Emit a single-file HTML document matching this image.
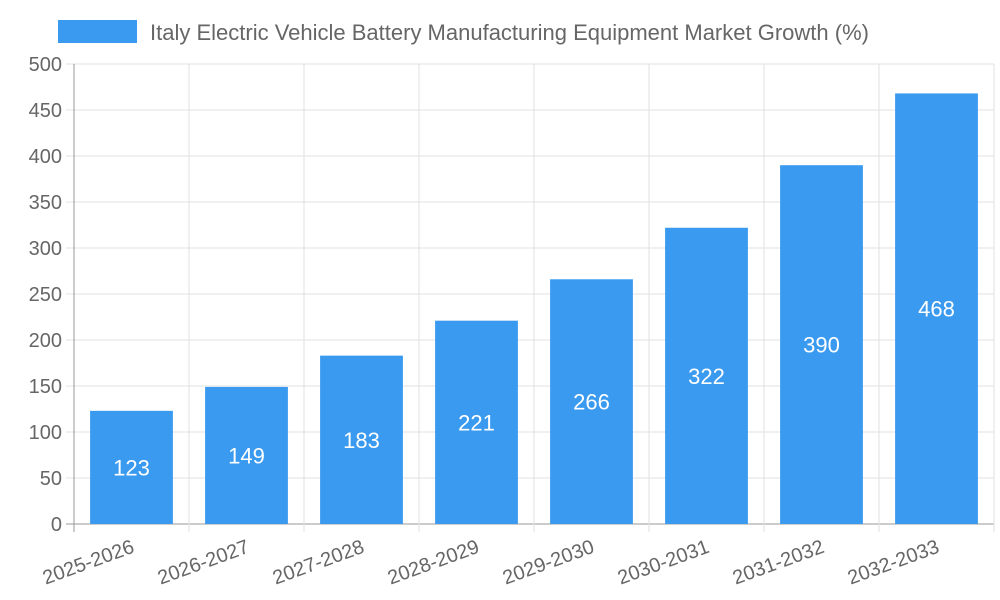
<!DOCTYPE html>
<html><head><meta charset="utf-8"><style>
body{margin:0;background:#fff;}
svg{display:block;font-family:"Liberation Sans",sans-serif;}
</style></head><body>
<svg id="chart" width="1000" height="600">
<rect x="58" y="20" width="79" height="23" fill="#3a9aef"></rect>
<text x="150" y="40" font-size="22" fill="#666">Italy Electric Vehicle Battery Manufacturing Equipment Market Growth (%)</text>
<g id="grid"></g><g id="bars"></g><g id="labels"></g>
</svg>
<script>
const categories=["2025-2026","2026-2027","2027-2028","2028-2029","2029-2030","2030-2031","2031-2032","2032-2033"];
const values=[123,149,183,221,266,322,390,468];
const yTicks=[0,50,100,150,200,250,300,350,400,450,500];
const X0=74,X1=994,Y0=524,Y1=64,YMAX=500;
const bw=(X1-X0)/categories.length;
const y=v=>Y0-(v/YMAX)*(Y0-Y1);
const xC=i=>X0+bw*(i+0.5);
const NS="http://www.w3.org/2000/svg";
function mk(t,a,p){const e=document.createElementNS(NS,t);for(const k in a)e.setAttribute(k,a[k]);p.appendChild(e);return e;}
const g=document.getElementById('grid'),b=document.getElementById('bars'),l=document.getElementById('labels');
yTicks.forEach(t=>{
const ln=mk('line',{x1:X0-8,x2:X1,y1:y(t),y2:y(t),stroke:t===0?'#999':'#e0e0e0','stroke-width':1},g);


const tx=mk('text',{x:X0-12,y:y(t)+7,'text-anchor':'end','font-size':20,fill:'#666'},l);
tx.textContent=t;


});
for(let i=0;i<=categories.length;i++){
const x=X0+bw*i;
const ln=mk('line',{x1:x,x2:x,y1:Y1,y2:Y0+8,stroke:i===0?'#999':'#e0e0e0','stroke-width':1},g);


}
categories.forEach((c,i)=>{
const v=values[i],w=bw*0.72;
const r=mk('rect',{x:xC(i)-w/2,y:y(v),width:w,height:Y0-y(v),fill:'#3a9aef'},b);


const vt=mk('text',{x:xC(i),y:(y(v)+Y0)/2+8,'text-anchor':'middle','font-size':22,fill:'#fff'},l);
vt.textContent=v;


const ct=mk('text',{x:xC(i)+4,y:Y0+28,'text-anchor':'end','font-size':20,fill:'#666',transform:`rotate(-20 ${xC(i)+4} ${Y0+28})`},l);
ct.textContent=c;


});
</script>
</body></html>
